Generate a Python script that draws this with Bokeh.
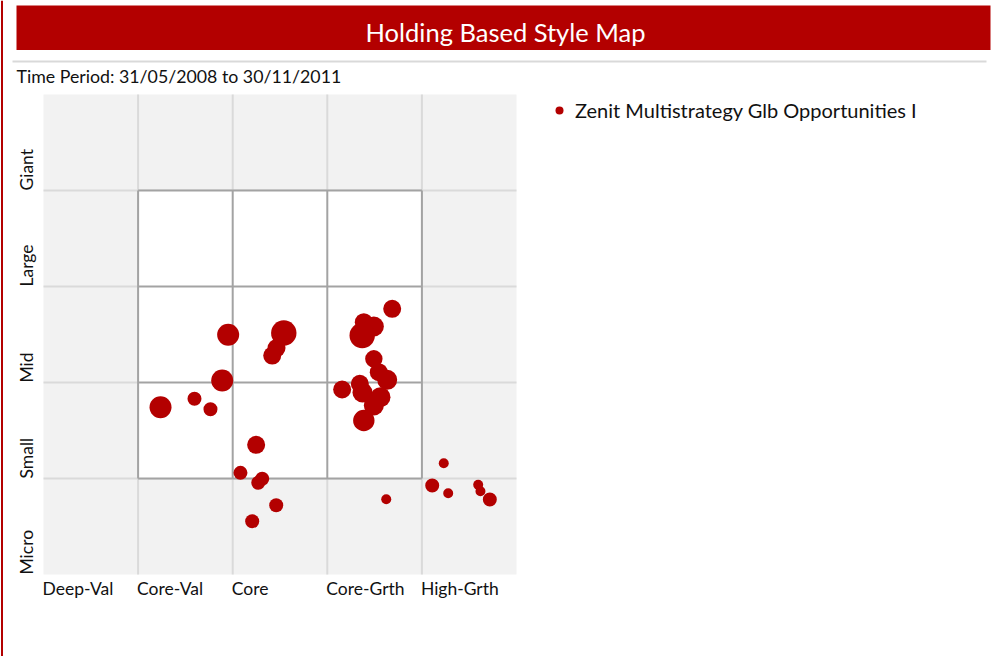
import math
from bokeh.plotting import figure
from bokeh.models import Range1d, ColumnDataSource, Legend, LegendItem
from bokeh.embed import file_html
from bokeh.resources import INLINE
from bokeh.core.properties import value

# ---------------- data ----------------
title_text = "Holding Based Style Map"
period_text = "Time Period: 31/05/2008 to 30/11/2011"
series_name = "Zenit Multistrategy Glb Opportunities I"
style_labels = ["Deep-Val", "Core-Val", "Core", "Core-Grth", "High-Grth"]
size_labels = ["Micro", "Small", "Mid", "Large", "Giant"]

# style score (0-5, value -> growth) and size score (0-5, micro -> giant)
style_score = [1.952, 2.540, 2.463, 2.418, 1.889, 1.237, 1.596, 1.765, 2.248, 2.082,
               2.312, 2.270, 2.460, 2.206, 3.686, 3.386, 3.492, 3.369, 3.492, 3.544,
               3.633, 3.157, 3.344, 3.372, 3.562, 3.492, 3.386, 4.231, 4.109, 4.278,
               4.595, 4.619, 4.718, 3.623]
size_score = [2.497, 2.516, 2.359, 2.281, 2.021, 1.743, 1.830, 1.722, 1.351, 1.059,
              0.997, 0.955, 0.722, 0.555, 2.768, 2.628, 2.583, 2.490, 2.247, 2.107,
              2.028, 1.927, 1.986, 1.896, 1.847, 1.760, 1.604, 1.159, 0.927, 0.847,
              0.934, 0.868, 0.781, 0.784]
weight = [2.2, 2.54, 1.8, 1.8, 2.2, 2.2, 1.4, 1.4, 1.8, 1.4,
          1.4, 1.4, 1.4, 1.4, 1.8, 1.8, 2.0, 2.54, 1.74, 1.8,
          2.0, 1.8, 1.8, 2.0, 2.0, 2.0, 2.14, 1.0, 1.4, 1.0,
          1.0, 1.0, 1.4, 1.0]

# ---------------- layout ----------------
W, H = 993, 656
GX0, GY0 = 43.0, 574.0       # page pixel of style (0, 0)
UX, UY = 94.6, 96.0          # pixels per style unit

def X(px):
    return (px - GX0) / UX

def Y(py):
    return (GY0 - py) / UY

RED = "#b30000"
FONT = "Lato"
INK = "#111111"

p = figure(width=W, height=H,
           x_range=Range1d(X(0), X(W)),
           y_range=Range1d(Y(H), Y(0)),
           x_axis_type=None, y_axis_type=None,
           toolbar_location=None, tools="", output_backend="svg",
           min_border=0, outline_line_color=None,
           background_fill_color="white", border_fill_color="white")

# page frame line on the left
p.segment(x0=[X(1.5)], y0=[Y(0)], x1=[X(1.5)], y1=[Y(H)], line_color=RED, line_width=2)

# title bar
p.quad(left=[X(16)], right=[X(990)], top=[Y(5)], bottom=[Y(49.5)],
       fill_color=RED, line_color=None)
p.text(x=[X(505)], y=[Y(31)], text=[title_text], text_font=value(FONT),
       text_font_size="25.5px", text_color="white", text_align="center",
       text_baseline="alphabetic")
p.segment(x0=[X(12)], y0=[Y(61)], x1=[X(986)], y1=[Y(61)],
          line_color="#d9d9d9", line_width=2)
p.text(x=[X(16)], y=[Y(75.5)], text=[period_text], text_font=value(FONT),
       text_font_size="17.75px", text_color=INK, text_align="left",
       text_baseline="alphabetic")

# style box
n = len(style_labels)
inner = list(range(1, n))
p.quad(left=[0], right=[n], bottom=[0], top=[n], fill_color="#f2f2f2", line_color=None)
p.segment(x0=inner, y0=[0] * len(inner), x1=inner, y1=[n] * len(inner),
          line_color="#dadada", line_width=2)
p.segment(x0=[0] * len(inner), y0=inner, x1=[n] * len(inner), y1=inner,
          line_color="#dadada", line_width=2)
p.quad(left=[1], right=[n - 1], bottom=[1], top=[n - 1], fill_color="white", line_color=None)
p.segment(x0=inner, y0=[1] * len(inner), x1=inner, y1=[n - 1] * len(inner),
          line_color="#a3a3a3", line_width=2)
p.segment(x0=[1] * len(inner), y0=inner, x1=[n - 1] * len(inner), y1=inner,
          line_color="#a3a3a3", line_width=2)

# category labels
p.text(x=list(range(n)), y=[Y(588)] * n, text=style_labels, x_offset=-1,
       text_font=value(FONT), text_font_size="17.5px", text_color=INK,
       text_align="left", text_baseline="alphabetic")
p.text(x=[X(26)] * n, y=list(range(n)), text=size_labels, angle=math.pi / 2,
       text_font=value(FONT), text_font_size="17.5px", text_color=INK,
       text_align="left", text_baseline="alphabetic")

# holdings
src = ColumnDataSource(dict(x=style_score, y=size_score,
                            size=[w * 10 for w in weight]))
r = p.scatter(x="x", y="y", size="size", source=src, marker="circle",
              fill_color=RED, line_color=None)

legend = Legend(items=[LegendItem(label=series_name, renderers=[r])],
                location=(549, H - 122), padding=0, margin=0, spacing=0,
                glyph_width=20, glyph_height=20, label_standoff=6,
                label_text_font=FONT, label_text_font_size="20px",
                label_text_color=INK, border_line_color=None,
                background_fill_alpha=0)
p.add_layout(legend)

open("out.html", "w").write(file_html(p, INLINE))
